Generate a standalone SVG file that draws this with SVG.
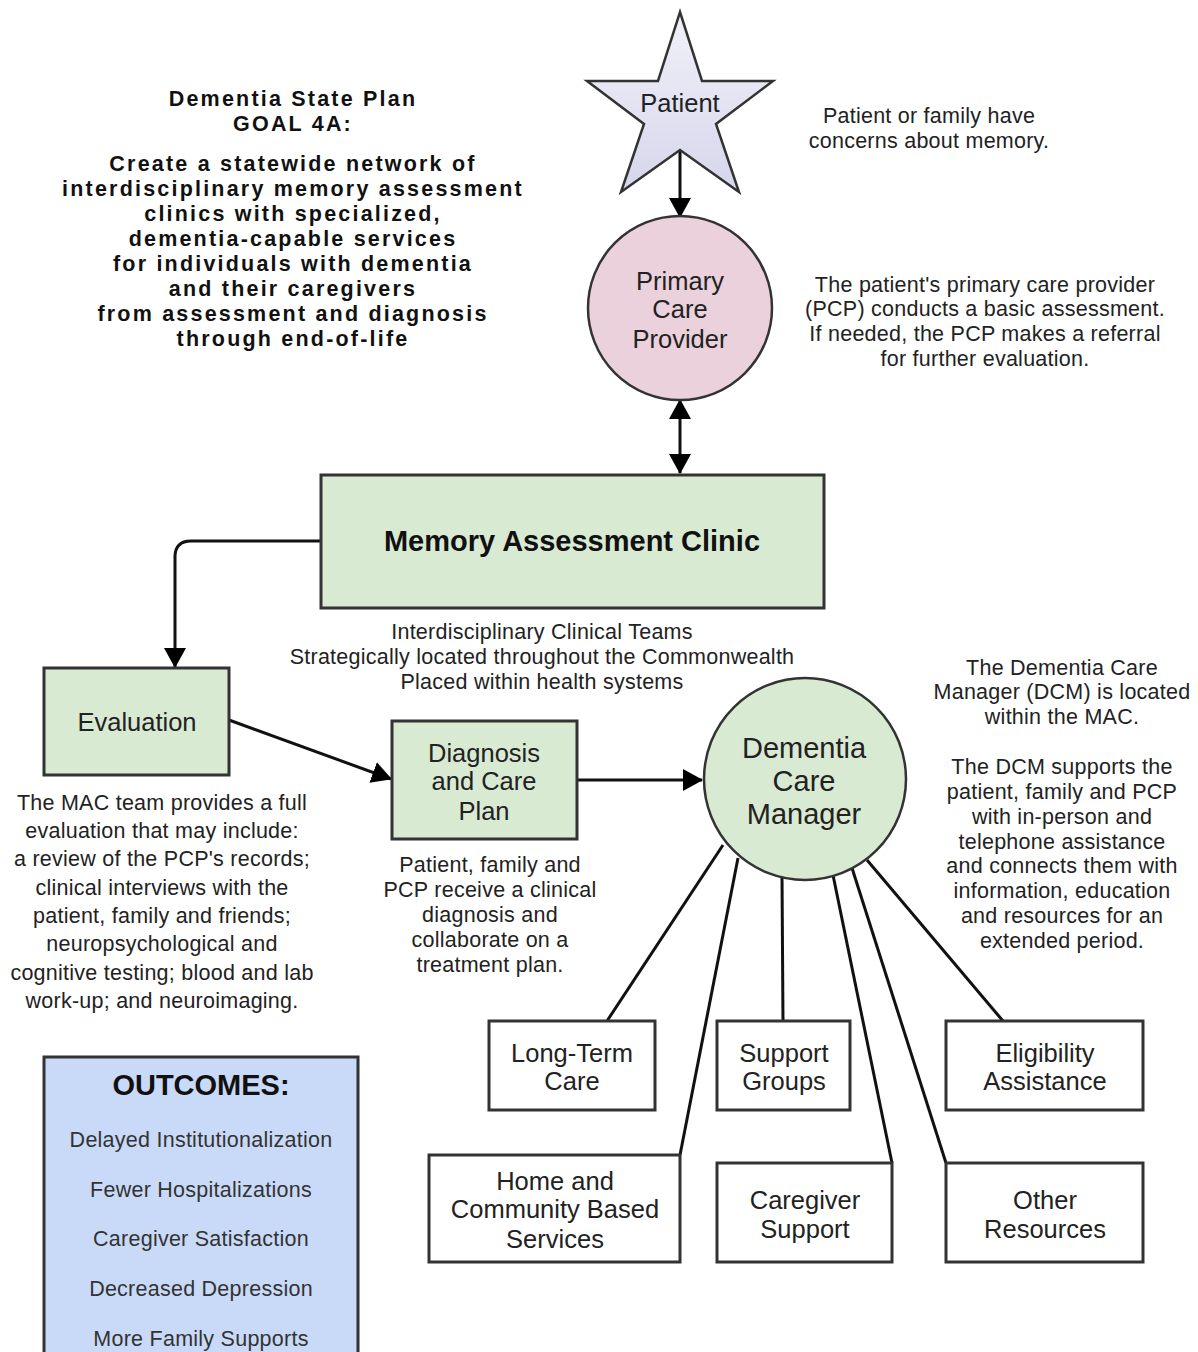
<svg xmlns="http://www.w3.org/2000/svg" width="1198" height="1352" viewBox="0 0 1198 1352">
<style>
text{font-family:"Liberation Sans",Arial,sans-serif;fill:#222;text-anchor:middle}
.desc{font-size:21.5px;letter-spacing:0.25px}
.lbl{font-size:25.5px}
.goal{font-size:21.5px;letter-spacing:2.2px;font-weight:bold;fill:#111}
.box{stroke:#333;stroke-width:3}
.green{fill:#d9ead3}
.white{fill:#fff}
.conn{stroke:#111;stroke-width:3;fill:none}
</style>
<defs>
<linearGradient id="starg" x1="0" y1="0" x2="0" y2="1">
<stop offset="0" stop-color="#f1f1f9"/>
<stop offset="1" stop-color="#d6d6ec"/>
</linearGradient>
<marker id="ah" viewBox="0 0 20 22" markerWidth="20" markerHeight="22" refX="19" refY="11" orient="auto-start-reverse" markerUnits="userSpaceOnUse">
<path d="M0,0 L20,11 L0,22 z" fill="#000"/>
</marker>
</defs>
<rect width="1198" height="1352" fill="#fff"/>

<g id="goal">
<text class="goal" x="293" y="106">Dementia State Plan</text>
<text class="goal" x="293" y="131">GOAL 4A:</text>
<text class="goal" x="293" y="171">Create a statewide network of</text>
<text class="goal" x="293" y="196">interdisciplinary memory assessment</text>
<text class="goal" x="293" y="221">clinics with specialized,</text>
<text class="goal" x="293" y="246">dementia-capable services</text>
<text class="goal" x="293" y="271">for individuals with dementia</text>
<text class="goal" x="293" y="296">and their caregivers</text>
<text class="goal" x="293" y="321">from assessment and diagnosis</text>
<text class="goal" x="293" y="346">through end-of-life</text>
</g>

<g id="connectors">
<line class="conn" x1="680" y1="150" x2="680" y2="217" marker-end="url(#ah)"/>
<line class="conn" x1="680" y1="400" x2="680" y2="473" marker-start="url(#ah)" marker-end="url(#ah)"/>
<path class="conn" d="M320,541 H191 Q175,541 175,557 V667" marker-end="url(#ah)"/>
<line class="conn" x1="229" y1="720" x2="391" y2="779" marker-end="url(#ah)"/>
<line class="conn" x1="577" y1="780" x2="702" y2="780" marker-end="url(#ah)"/>
<line class="conn" x1="723" y1="845" x2="607" y2="1021"/>
<line class="conn" x1="738" y1="858" x2="680" y2="1155"/>
<line class="conn" x1="782" y1="876" x2="783" y2="1021"/>
<line class="conn" x1="833" y1="875" x2="892" y2="1163"/>
<line class="conn" x1="852" y1="868" x2="946" y2="1163"/>
<line class="conn" x1="867" y1="860" x2="1003" y2="1021"/>
</g>

<g id="patient">
<polygon points="680,12 702,81 773,81 716,124 739,192 680,150 621,192 644,124 587,81 658,81" fill="url(#starg)" stroke="#333" stroke-width="2.5" stroke-linejoin="miter"/>
<text class="lbl" x="680" y="112">Patient</text>
</g>
<g id="patient-note">
<text class="desc" x="929" y="123">Patient or family have</text>
<text class="desc" x="929" y="148">concerns about memory.</text>
</g>

<g id="pcp">
<circle cx="680" cy="308" r="92" fill="#ead1dc" stroke="#333" stroke-width="2.5"/>
<text class="lbl" x="680" y="290">Primary</text>
<text class="lbl" x="680" y="318">Care</text>
<text class="lbl" x="680" y="348">Provider</text>
</g>
<g id="pcp-note">
<text class="desc" x="985" y="292">The patient's primary care provider</text>
<text class="desc" x="985" y="316">(PCP) conducts a basic assessment.</text>
<text class="desc" x="985" y="341">If needed, the PCP makes a referral</text>
<text class="desc" x="985" y="366">for further evaluation.</text>
</g>

<g id="mac">
<rect class="box green" x="321" y="475" width="503" height="133"/>
<text x="572" y="551" style="font-size:29px;font-weight:bold;fill:#111">Memory Assessment Clinic</text>
</g>
<g id="mac-note">
<text class="desc" x="542" y="639">Interdisciplinary Clinical Teams</text>
<text class="desc" x="542" y="664">Strategically located throughout the Commonwealth</text>
<text class="desc" x="542" y="689">Placed within health systems</text>
</g>

<g id="evaluation">
<rect class="box green" x="44" y="668" width="185" height="107"/>
<text class="lbl" x="137" y="731">Evaluation</text>
</g>
<g id="evaluation-note">
<text class="desc" x="162" y="810">The MAC team provides a full</text>
<text class="desc" x="162" y="838">evaluation that may include:</text>
<text class="desc" x="162" y="866">a review of the PCP's records;</text>
<text class="desc" x="162" y="895">clinical interviews with the</text>
<text class="desc" x="162" y="923">patient, family and friends;</text>
<text class="desc" x="162" y="951">neuropsychological and</text>
<text class="desc" x="162" y="980">cognitive testing; blood and lab</text>
<text class="desc" x="162" y="1008">work-up; and neuroimaging.</text>
</g>

<g id="diagnosis">
<rect class="box green" x="392" y="721" width="185" height="118"/>
<text class="lbl" x="484" y="762">Diagnosis</text>
<text class="lbl" x="484" y="790">and Care</text>
<text class="lbl" x="484" y="820">Plan</text>
</g>
<g id="diagnosis-note">
<text class="desc" x="490" y="872">Patient, family and</text>
<text class="desc" x="490" y="897">PCP receive a clinical</text>
<text class="desc" x="490" y="922">diagnosis and</text>
<text class="desc" x="490" y="947">collaborate on a</text>
<text class="desc" x="490" y="972">treatment plan.</text>
</g>

<g id="dcm">
<circle cx="805" cy="779" r="101" fill="#d9ead3" stroke="#333" stroke-width="2.5"/>
<text x="804" y="758" style="font-size:29px">Dementia</text>
<text x="804" y="791" style="font-size:29px">Care</text>
<text x="804" y="824" style="font-size:29px">Manager</text>
</g>
<g id="dcm-note">
<text class="desc" x="1062" y="675">The Dementia Care</text>
<text class="desc" x="1062" y="699">Manager (DCM) is located</text>
<text class="desc" x="1062" y="724">within the MAC.</text>
<text class="desc" x="1062" y="774">The DCM supports the</text>
<text class="desc" x="1062" y="799">patient, family and PCP</text>
<text class="desc" x="1062" y="824">with in-person and</text>
<text class="desc" x="1062" y="849">telephone assistance</text>
<text class="desc" x="1062" y="873">and connects them with</text>
<text class="desc" x="1062" y="898">information, education</text>
<text class="desc" x="1062" y="923">and resources for an</text>
<text class="desc" x="1062" y="948">extended period.</text>
</g>

<g id="long-term-care">
<rect class="box white" x="489" y="1021" width="166" height="89"/>
<text class="lbl" x="572" y="1062">Long-Term</text>
<text class="lbl" x="572" y="1090">Care</text>
</g>
<g id="support-groups">
<rect class="box white" x="717" y="1021" width="133" height="89"/>
<text class="lbl" x="784" y="1062">Support</text>
<text class="lbl" x="784" y="1090">Groups</text>
</g>
<g id="eligibility">
<rect class="box white" x="946" y="1021" width="197" height="89"/>
<text class="lbl" x="1045" y="1062">Eligibility</text>
<text class="lbl" x="1045" y="1090">Assistance</text>
</g>
<g id="home-community">
<rect class="box white" x="429" y="1155" width="251" height="107"/>
<text class="lbl" x="555" y="1190">Home and</text>
<text class="lbl" x="555" y="1218">Community Based</text>
<text class="lbl" x="555" y="1248">Services</text>
</g>
<g id="caregiver-support">
<rect class="box white" x="717" y="1163" width="175" height="99"/>
<text class="lbl" x="805" y="1209">Caregiver</text>
<text class="lbl" x="805" y="1238">Support</text>
</g>
<g id="other-resources">
<rect class="box white" x="946" y="1163" width="197" height="99"/>
<text class="lbl" x="1045" y="1209">Other</text>
<text class="lbl" x="1045" y="1238">Resources</text>
</g>

<g id="outcomes">
<rect class="box" x="44" y="1057" width="314" height="330" fill="#c9daf8"/>
<text x="201" y="1095" style="font-size:29px;font-weight:bold;fill:#111">OUTCOMES:</text>
<text class="desc" x="201" y="1147" style="fill:#333">Delayed Institutionalization</text>
<text class="desc" x="201" y="1197" style="fill:#333">Fewer Hospitalizations</text>
<text class="desc" x="201" y="1246" style="fill:#333">Caregiver Satisfaction</text>
<text class="desc" x="201" y="1296" style="fill:#333">Decreased Depression</text>
<text class="desc" x="201" y="1346" style="fill:#333">More Family Supports</text>
</g>
</svg>
